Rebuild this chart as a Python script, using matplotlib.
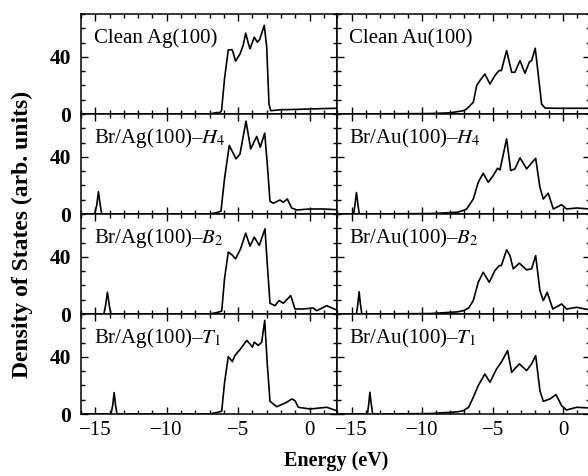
import matplotlib
matplotlib.use("Agg")
import matplotlib.pyplot as plt
from matplotlib.ticker import MultipleLocator, FixedLocator

plt.rcParams['font.family'] = ['Liberation Serif', 'DejaVu Serif']
plt.rcParams['mathtext.fontset'] = 'stix'

# ---------------- data (energy in eV, DOS in arb. units) ----------------
ag_clean_x = [-16, -7.0, -6.5, -6.28, -6.16, -5.95, -5.69, -5.41, -5.18, -4.87, -4.65, -4.47, -4.3, -4.17,
              -3.87, -3.66, -3.5, -3.17, -3.0, -2.84, -2.72, -2.0, -1.0, 0.0, 1.0, 1.9]
ag_clean_y = [0, 0, 1.0, 1.0, 2.3, 25, 44.9, 45, 37, 42, 48, 56.6, 50, 45.6,
              53.8, 50.3, 52, 62, 46.8, 7, 2.3, 3, 3.2, 3.5, 3.8, 4]

ag_h4_x = [-16, -15.05, -14.9, -14.78, -14.65, -14.55, -7.0, -6.5, -6.2, -5.95, -5.62, -5.15, -4.87, -4.45,
           -4.12, -3.7, -3.45, -3.14, -2.96, -2.77, -2.54, -2.07, -1.84, -1.56, -1.25, -0.9, 0.0, 1.0, 1.9]
ag_h4_y = [0, 0, 6, 15.6, 6, 0, 0, 1, 2, 25, 48, 38.6, 42, 65,
           45.6, 54.3, 46.8, 56.6, 35, 8.9, 7.5, 9.8, 8.2, 10.5, 4.2, 2.8, 3.5, 3.5, 3.0]

ag_b2_x = [-16, -14.4, -14.28, -14.15, -14.02, -13.9, -7.0, -6.5, -6.15, -5.95, -5.69, -5.45, -5.18, -4.83,
           -4.47, -4.17, -3.87, -3.52, -3.12, -2.96, -2.77, -2.42, -2.14, -1.84, -1.32, -1.02, -0.44, 0.26,
           0.5, 1.2, 1.9]
ag_b2_y = [0, 0, 6, 15.2, 6, 0, 0, 1, 2, 25, 43.3, 41.6, 38.6, 45.6,
           56.6, 47.5, 53.8, 48, 59.6, 35, 7.5, 5.8, 9.4, 7.5, 12.9, 3.5, 3.5, 4.2,
           2.3, 5.8, 2.8]

ag_t1_x = [-16, -13.9, -13.78, -13.68, -13.58, -13.48, -7.0, -6.5, -6.15, -5.95, -5.69, -5.41, -5.22, -4.83,
           -4.4, -4.17, -4.0, -3.87, -3.59, -3.35, -3.14, -2.96, -2.77, -2.3, -1.6, -1.25, -1.02, -0.79,
           0.03, 1.2, 1.9]
ag_t1_y = [0, 0, 6, 15, 6, 0, 0, 1, 2, 22, 40.2, 36.7, 41, 45.6,
           51.5, 49, 46.8, 50.3, 48, 50.3, 65.5, 35, 8.9, 5.1, 8.2, 10.5, 9.4, 4.7,
           3.5, 4.7, 2.3]

au_clean_x = [-16, -9.45, -8.03, -7.08, -6.84, -6.37, -6.13, -5.9, -5.55, -5.19, -4.84, -4.55, -4.38, -4.01,
              -3.65, -3.42, -3.06, -2.71, -2.4, -2.24, -1.98, -1.77, -1.53, -1.29, -0.5, 0.5, 1.9]
au_clean_y = [0, 0.3, 0.8, 2.3, 3.5, 8.2, 19.9, 23.4, 28, 21, 26.9, 30.4, 30.4, 44.4,
              29.2, 29.2, 37.4, 28.5, 36.3, 37.4, 46, 28, 7, 4.2, 4, 4, 4]

au_h4_x = [-16, -14.85, -14.75, -14.65, -14.55, -14.45, -9.45, -7.5, -7.08, -6.84, -6.37, -6.02, -5.67, -5.31,
           -4.96, -4.65, -4.48, -4.01, -3.72, -3.42, -3.06, -2.59, -1.95, -1.65, -1.41, -1.06, -0.7, -0.11,
           0.24, 0.96, 1.9]
au_h4_y = [0, 0, 7, 15, 7, 0, 0.3, 1.2, 2.5, 3.5, 10.5, 22.2, 28.5, 22.2,
           26.9, 32, 30.9, 52.6, 30.4, 31.6, 39.3, 31.6, 39, 18.7, 10.5, 14.5, 3.5, 6.5,
           3.5, 4.2, 3.5]

au_b2_x = [-16, -14.65, -14.55, -14.46, -14.37, -14.27, -9.45, -7.5, -7.08, -6.7, -6.37, -6.02, -5.67, -5.24,
           -4.84, -4.53, -4.38, -4.01, -3.77, -3.54, -3.11, -2.59, -2.24, -1.95, -1.65, -1.41, -1.13, -0.74,
           -0.11, 0.24, 0.96, 1.9]
au_b2_y = [0, 0, 7, 15.6, 7, 0, 0.3, 1.5, 2.3, 4.2, 9.4, 22.2, 29.2, 22.2,
           30.4, 33.9, 33.9, 44.9, 40.9, 31.6, 35.6, 30.9, 31.6, 40.9, 16.4, 9.4, 15.2, 3.5,
           7, 3.5, 4.7, 2.8]

au_t1_x = [-16, -13.87, -13.78, -13.7, -13.6, -13.5, -9.45, -7.5, -7.08, -6.7, -6.37, -6.02, -5.55, -5.19,
           -4.72, -4.38, -3.94, -3.65, -3.11, -2.59, -2.24, -1.95, -1.65, -1.41, -0.94, -0.51, -0.11, 0.24,
           0.96, 1.9]
au_t1_y = [0, 0, 7, 15.2, 7, 0, 0.3, 1.5, 2.3, 4.7, 11.7, 19.9, 28, 22.2,
           31.6, 36.3, 44.4, 29.2, 35.1, 30.4, 35.1, 40.9, 16.4, 8.9, 10.5, 13.6, 5.8, 2.8,
           4.7, 4.2]

left_labels = ['Clean Ag(100)', r'Br/Ag(100)–$H_4$', r'Br/Ag(100)–$B_2$', r'Br/Ag(100)–$T_1$']
right_labels = ['Clean Au(100)', r'Br/Au(100)–$H_4$', r'Br/Au(100)–$B_2$', r'Br/Au(100)–$T_1$']
left_data = [(ag_clean_x, ag_clean_y), (ag_h4_x, ag_h4_y), (ag_b2_x, ag_b2_y), (ag_t1_x, ag_t1_y)]
right_data = [(au_clean_x, au_clean_y), (au_h4_x, au_h4_y), (au_b2_x, au_b2_y), (au_t1_x, au_t1_y)]

x_major = [-15, -10, -5, 0]
y_major = [0, 40]

# ---------------- figure ----------------
W, H = 588, 476
fig = plt.figure(figsize=(W / 100, H / 100), dpi=100)

cols = [(81, 336.7, (-16.0, 1.9)), (336.7, 590.0, (-16.05, 1.9))]
panel_h = 100
top = 14

for c, (x0, x1, xl) in enumerate(cols):
    labels = left_labels if c == 0 else right_labels
    data = left_data if c == 0 else right_data
    for r in range(4):
        yb = top + panel_h * (r + 1)
        ax = fig.add_axes([x0 / W, 1 - yb / H, (x1 - x0) / W, panel_h / H])
        xs, ys = data[r]
        ax.plot(xs, ys, color='black', lw=1.2, solid_joinstyle='round')
        ax.set_xlim(*xl)
        ax.set_ylim(0, 70)
        ax.xaxis.set_major_locator(FixedLocator(x_major))
        ax.xaxis.set_minor_locator(MultipleLocator(1))
        ax.yaxis.set_major_locator(FixedLocator(y_major))
        ax.yaxis.set_minor_locator(MultipleLocator(10))
        ax.tick_params(which='both', direction='in', top=True, right=True, width=1.0)
        ax.tick_params(which='major', length=5)
        ax.tick_params(which='minor', length=3)
        ax.tick_params(axis='y', labelsize=15.5, pad=7)
        ax.tick_params(axis='x', labelsize=15, pad=5)
        for s in ax.spines.values():
            s.set_linewidth(1.1)
        if c == 0:
            for t in ax.get_yticklabels():
                t.set_fontweight('bold')
        else:
            ax.set_yticklabels([])
        if r < 3:
            ax.set_xticklabels([])
        ax.text(0.05, 0.71, labels[r], transform=ax.transAxes, fontsize=15,
                ha='left', va='baseline')

fig.text(22 / W, 1 - 234 / H, 'Density of States (arb. units)', rotation=90,
         fontsize=17, fontweight='bold', ha='center', va='center')
fig.text(336 / W, 1 - 461 / H, 'Energy (eV)', fontsize=14.5, fontweight='bold',
         ha='center', va='center')

fig.savefig('out.png', dpi=100)
